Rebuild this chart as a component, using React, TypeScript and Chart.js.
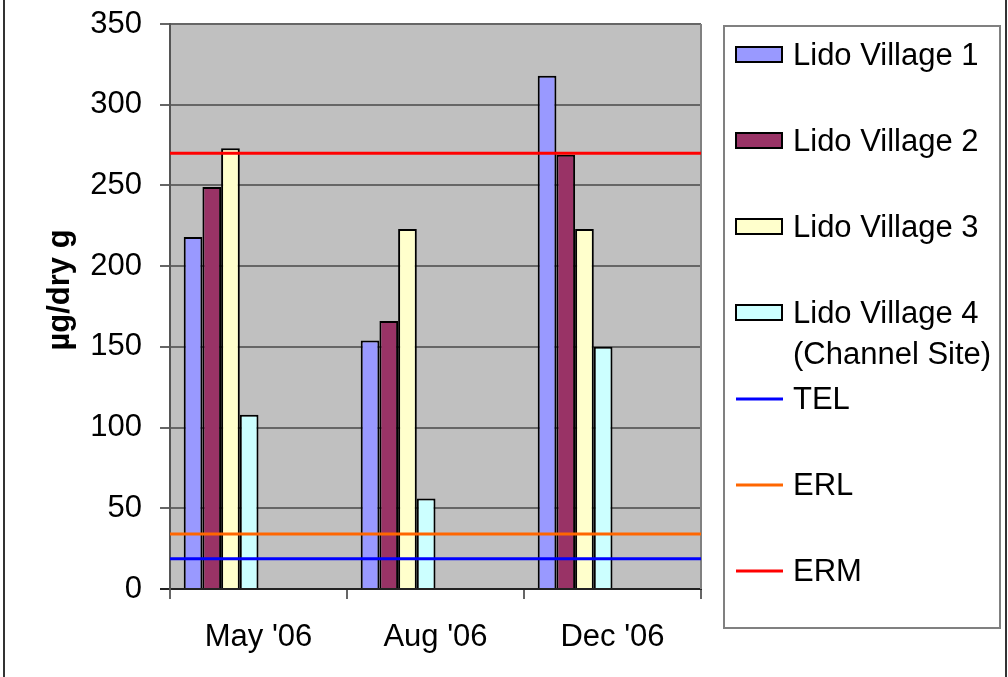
import React, { useEffect, useRef } from "react";
import { Chart, registerables } from "chart.js";

Chart.register(...registerables);

const categories = ["May '06", "Aug '06", "Dec '06"];
const seriesNames = ["Lido Village 1", "Lido Village 2", "Lido Village 3", "Lido Village 4\n(Channel Site)"];
const lidoVillage1 = [218, 154, 318];
const lidoVillage2 = [249, 166, 269];
const lidoVillage3 = [273, 223, 223];
const lidoVillage4 = [108, 56, 150];
const thresholdNames = ["TEL", "ERL", "ERM"];
const thresholdValues = [18.7, 34, 270];
const yTickValues = [0, 50, 100, 150, 200, 250, 300, 350];
const yAxisTitle = "µg/dry g";

const barColors = ["#9999FF", "#993366", "#FFFFCC", "#CCFFFF"];
const lineColors = ["#0000FF", "#FF6600", "#FF0000"];
const FONT = "'Liberation Sans', Arial, sans-serif";

export default function App() {
  const ref = useRef<HTMLCanvasElement | null>(null);

  useEffect(() => {
    if (!ref.current) return;
    const barSeries = [lidoVillage1, lidoVillage2, lidoVillage3, lidoVillage4];
    const datasets: any[] = barSeries.map((d, i) => ({
      type: "bar",
      label: seriesNames[i],
      data: d,
      backgroundColor: barColors[i],
      borderColor: "#000000",
      borderWidth: 2,
      xAxisID: "x",
      yAxisID: "y",
      order: 2,
      categoryPercentage: 0.845,
      barPercentage: 1,
    }));
    thresholdValues.forEach((v, i) => {
      datasets.push({
        type: "line",
        label: thresholdNames[i],
        data: [
          { x: 0, y: v },
          { x: 1, y: v },
        ],
        borderColor: lineColors[i],
        backgroundColor: lineColors[i],
        borderWidth: 3,
        pointRadius: 0,
        xAxisID: "xLine",
        yAxisID: "y",
        order: 0,
      });
    });

    const legendItems = [
      ...seriesNames.map((n, i) => ({ label: n, kind: "bar", color: barColors[i] })),
      ...thresholdNames.map((n, i) => ({ label: n, kind: "line", color: lineColors[i] })),
    ];

    const decor = {
      id: "decor",
      beforeDraw(chart: any) {
        const { ctx, chartArea } = chart;
        ctx.save();
        ctx.fillStyle = "#FFFFFF";
        ctx.fillRect(0, 0, chart.width, chart.height);
        ctx.fillStyle = "#C0C0C0";
        ctx.fillRect(chartArea.left, chartArea.top, chartArea.right - chartArea.left, chartArea.bottom - chartArea.top);
        ctx.restore();
      },
      beforeDatasetsDraw(chart: any) {
        const { ctx, chartArea } = chart;
        ctx.save();
        ctx.strokeStyle = "#808080";
        ctx.lineWidth = 2;
        ctx.beginPath();
        ctx.moveTo(chartArea.right, chartArea.top);
        ctx.lineTo(chartArea.right, chartArea.bottom);
        ctx.stroke();
        ctx.restore();
      },
      afterDraw(chart: any) {
        const { ctx } = chart;
        ctx.save();
        ctx.strokeStyle = "#333333";
        ctx.lineWidth = 2;
        ctx.beginPath();
        ctx.moveTo(4, 0);
        ctx.lineTo(4, chart.height);
        ctx.moveTo(1006, 0);
        ctx.lineTo(1006, chart.height);
        ctx.stroke();

        ctx.save();
        ctx.translate(60, 290);
        ctx.rotate(-Math.PI / 2);
        ctx.font = `bold 31px ${FONT}`;
        ctx.fillStyle = "#000000";
        ctx.textAlign = "center";
        ctx.textBaseline = "middle";
        ctx.fillText(yAxisTitle, 0, 0);
        ctx.restore();

        ctx.strokeStyle = "#808080";
        ctx.lineWidth = 2;
        ctx.strokeRect(724, 26, 276, 602);
        ctx.font = `31px ${FONT}`;
        ctx.textAlign = "left";
        ctx.textBaseline = "middle";
        legendItems.forEach((it, i) => {
          const cy = 54 + 86 * i;
          if (it.kind === "bar") {
            ctx.fillStyle = it.color;
            ctx.fillRect(736, cy - 7, 46, 15);
            ctx.strokeStyle = "#000000";
            ctx.lineWidth = 2;
            ctx.strokeRect(736, cy - 7, 46, 15);
          } else {
            ctx.strokeStyle = it.color;
            ctx.lineWidth = 3;
            ctx.beginPath();
            ctx.moveTo(736, cy + 1);
            ctx.lineTo(783, cy + 1);
            ctx.stroke();
          }
          ctx.fillStyle = "#000000";
          it.label.split("\n").forEach((line, k) => {
            ctx.fillText(line, 793, cy + 2 + k * 41);
          });
        });
        ctx.restore();
      },
    };

    const chart = new Chart(ref.current, {
      type: "bar",
      data: { labels: categories, datasets },
      options: {
        animation: false,
        responsive: false,
        maintainAspectRatio: false,
        layout: { padding: { left: 0, top: 24, right: 307, bottom: 0 } },
        plugins: { legend: { display: false }, tooltip: { enabled: false }, title: { display: false } },
        scales: {
          x: {
            type: "category",
            offset: true,
            grid: {
              offset: true,
              drawOnChartArea: false,
              drawTicks: true,
              tickLength: 10,
              color: "#666666",
              lineWidth: 2,
            },
            border: { display: true, color: "#222222", width: 2 },
            ticks: { color: "#000000", font: { family: FONT, size: 31 }, padding: 20, maxRotation: 0 },
            afterFit(scale: any) {
              scale.height = 88;
              scale.paddingLeft = 0;
              scale.paddingRight = 0;
            },
          },
          xLine: {
            type: "linear",
            display: false,
            offset: false,
            grid: { offset: false },
            min: 0,
            max: 1,
          },
          y: {
            type: "linear",
            min: 0,
            max: 350,
            afterBuildTicks(scale: any) {
              scale.ticks = yTickValues.map((v) => ({ value: v }));
            },
            grid: {
              color: (c: any) => (c.tick && c.tick.value === 0 ? "#222222" : "#666666"),
              lineWidth: 2,
              tickLength: 10,
              drawTicks: true,
            },
            border: { display: true, color: "#555555", width: 2 },
            ticks: { color: "#000000", font: { family: FONT, size: 31 }, padding: 18 },
            afterFit(scale: any) {
              scale.width = 170;
              scale.paddingTop = 0;
              scale.paddingBottom = 0;
            },
          },
        },
      } as any,
      plugins: [decor],
    });
    return () => chart.destroy();
  }, []);

  return (
    <div style={{ position: "absolute", left: 0, top: 0, width: 1008, height: 677 }}>
      <canvas ref={ref} width={1008} height={677} style={{ display: "block" }} />
    </div>
  );
}
